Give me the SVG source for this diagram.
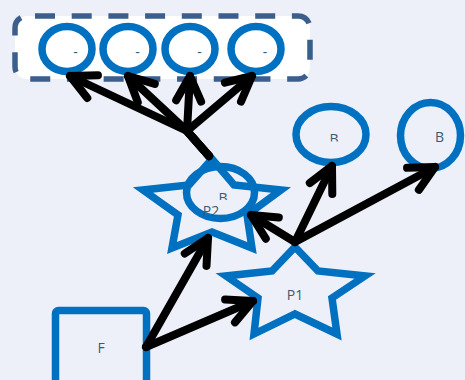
<svg xmlns="http://www.w3.org/2000/svg" width="465" height="380" viewBox="0 0 465 380">
  <style>
    .shape { stroke: #0070c0; stroke-width: 7.5; stroke-linejoin: miter; fill: #edf0f8; }
    .open { fill: none; }
    .white { fill: #ffffff; }
    .label { font-family: "Open Sans", "Liberation Sans", sans-serif; font-size: 14px; fill: #3b5b75; text-anchor: middle; }
    .edge { fill: none; stroke: #000000; stroke-width: 8; stroke-linecap: round; stroke-linejoin: round; marker-end: url(#arrow); }
  </style>
  <defs>
    <marker id="arrow" markerUnits="userSpaceOnUse" orient="auto" refX="0" refY="0" markerWidth="60" markerHeight="60" overflow="visible">
      <path d="M -25,-12.5 L 0,0 L -25,12.5" fill="none" stroke="#000000" stroke-width="8" stroke-linecap="round" stroke-linejoin="round"/>
    </marker>
    <clipPath id="clip-r"><rect x="300" y="100" width="70" height="41.5"/></clipPath>
    <clipPath id="clip-p2b"><rect x="190" y="170" width="60" height="30"/></clipPath>
  </defs>

  <rect x="0" y="0" width="465" height="380" fill="#edf0f8"/>

  <!-- group container -->
  <g id="group">
    <rect x="15" y="16" width="295" height="63" rx="12" ry="12" fill="#ffffff" stroke="#3b5e8c" stroke-width="5.5" stroke-dasharray="20 16.7" stroke-dashoffset="-8"/>
  </g>

  <g id="item1">
    <ellipse class="shape white" cx="67" cy="49" rx="25" ry="22.5"/>
    <text class="label" x="75.5" y="57">-</text>
  </g>
  <g id="item2">
    <ellipse class="shape white" cx="128" cy="49" rx="25" ry="22.5"/>
    <text class="label" x="137.5" y="57">-</text>
  </g>
  <g id="item3">
    <ellipse class="shape white" cx="190" cy="49" rx="25" ry="22.5"/>
    <text class="label" x="199.5" y="57">-</text>
  </g>
  <g id="item4">
    <ellipse class="shape white" cx="256" cy="49" rx="25" ry="22.5"/>
    <text class="label" x="265" y="57">-</text>
  </g>

  <g id="r">
    <ellipse class="shape" cx="331" cy="134.5" rx="35" ry="28"/>
    <text class="label" x="334" y="144" clip-path="url(#clip-r)">B</text>
  </g>
  <g id="b">
    <ellipse class="shape" cx="430.5" cy="135.5" rx="30" ry="33"/>
    <text class="label" x="439.5" y="142">B</text>
  </g>

  <g id="p2">
    <ellipse class="shape" cx="220.5" cy="192.5" rx="34" ry="26"/>
    <polygon class="shape open" points="212,159 234,185 281,190 247,215 252,248 212,232 172,248 178,215 143,190 189,185"/>
    <text class="label" x="223" y="203" clip-path="url(#clip-p2b)">B</text>
    <text class="label" x="211" y="216">P2</text>
  </g>

  <g id="p1">
    <polygon class="shape" points="295,247 318,271 365,276 332,298 337,334 295,314 254,334 258,298 226,276 272,271"/>
    <text class="label" x="295" y="300">P1</text>
  </g>

  <g id="f">
    <rect class="shape" x="55.5" y="310.5" width="91" height="91" rx="3" ry="3"/>
    <text class="label" x="101" y="353">F</text>
  </g>

  <!-- connectors -->
  <g id="connectors">
    <path class="edge" d="M 209,156 L 187,131 L 70,76"/>
    <path class="edge" d="M 209,156 L 187,131 L 128,76"/>
    <path class="edge" d="M 209,156 L 187,131 L 190,76"/>
    <path class="edge" d="M 209,156 L 187,131 L 252,76"/>
    <path class="edge" d="M 295,242 L 251,215"/>
    <path class="edge" d="M 295,242 L 332,166"/>
    <path class="edge" d="M 295,242 L 435,167"/>
    <path class="edge" d="M 146,347 L 208,238"/>
    <path class="edge" d="M 146,347 L 253,301"/>
  </g>
</svg>
